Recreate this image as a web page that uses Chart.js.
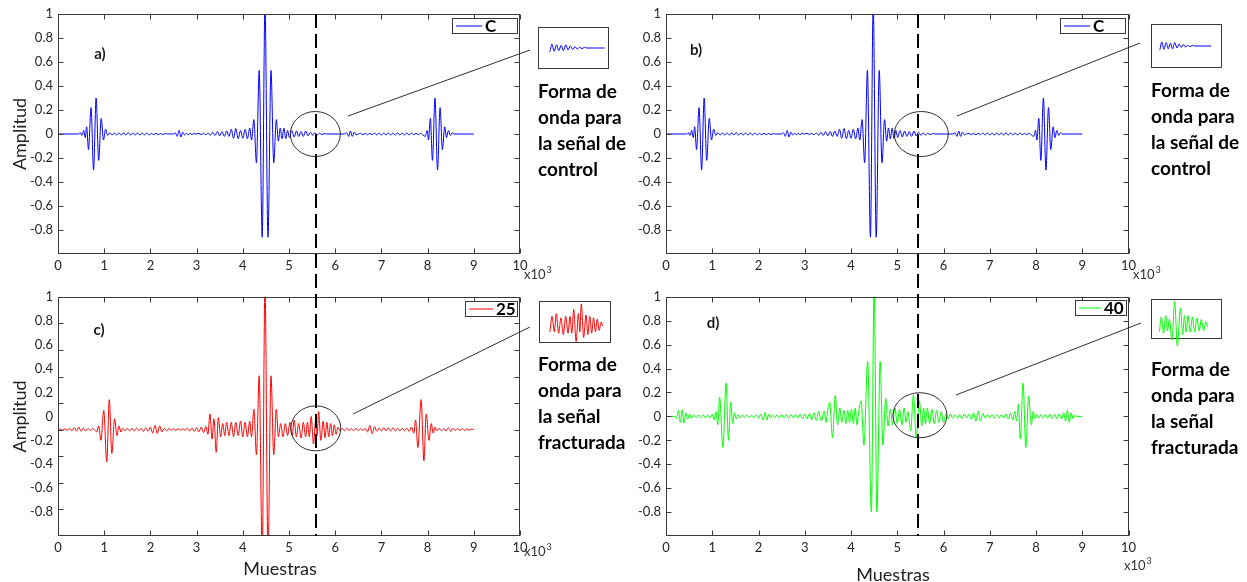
<!DOCTYPE html>
<html lang="es">
<head>
<meta charset="utf-8">
<title>Formas de onda</title>
<script src="https://cdn.jsdelivr.net/npm/chart.js@4.4.1/dist/chart.umd.min.js"></script>
<style>
  html, body { margin: 0; padding: 0; background: #fff; }
  #lienzo { position: relative; width: 1247px; height: 582px; overflow: hidden; }
  #lienzo canvas { position: absolute; }
</style>
</head>
<body>
<div id="lienzo">
  <canvas id="panelA" width="632" height="284" style="left:0;top:0"></canvas>
  <canvas id="panelB" width="615" height="284" style="left:632px;top:0"></canvas>
  <canvas id="panelC" width="632" height="298" style="left:0;top:284px"></canvas>
  <canvas id="panelD" width="615" height="298" style="left:632px;top:284px"></canvas>
  <canvas id="zoomA" width="91" height="62" style="left:528px;top:17px"></canvas>
  <canvas id="zoomB" width="91" height="64" style="left:1141px;top:14px"></canvas>
  <canvas id="zoomC" width="92" height="62" style="left:529px;top:291px"></canvas>
  <canvas id="zoomD" width="91" height="60" style="left:1141px;top:289px"></canvas>
</div>
<script>
// ejes (muestras en miles)
const marcasMuestras = [0, 1, 2, 3, 4, 5, 6, 7, 8, 9, 10];
const marcasAmplitud = [1, 0.8, 0.6, 0.4, 0.2, 0, -0.2, -0.4, -0.6, -0.8];
const marcasPanelC = [0.778, 0.556, 0.333, 0.111, -0.111, -0.333, -0.556, -0.778];

// señal de control "C" [muestra x10^3, amplitud]
const senalControl = [
  [0, 0], [0.45, 0], [0.48, 0.012], [0.52, -0.012], [0.555, 0.03], [0.59, -0.03], [0.62, 0.06],
  [0.66, -0.13], [0.715, 0.22], [0.77, -0.3], [0.825, 0.3], [0.88, -0.22], [0.935, 0.13], [0.985, -0.05],
  [1.03, 0.04], [1.075, -0.012], [1.12, 0.01], [1.17, -0.008], [1.22, 0.008], [1.27, -0.008], [1.32, 0.008],
  [1.37, -0.008], [1.42, 0.01], [1.47, -0.008], [1.52, 0.012], [1.57, -0.008], [1.62, 0.008], [1.67, -0.008],
  [1.72, 0.008], [1.77, -0.008], [1.82, 0.008], [1.87, -0.008], [1.92, 0.008], [1.97, -0.008], [2.02, 0.006],
  [2.07, -0.006], [2.12, 0.006], [2.17, -0.006], [2.22, 0.005], [2.27, -0.005], [2.32, 0.004], [2.37, 0],
  [2.5, 0], [2.54, 0.01], [2.58, -0.02], [2.62, 0.03], [2.66, -0.025], [2.7, 0.015], [2.74, -0.008],
  [2.78, 0.006], [2.82, -0.006], [2.86, 0.006], [2.9, -0.006], [2.94, 0.005], [2.98, 0], [3.05, 0.005],
  [3.1, -0.005], [3.15, 0.006], [3.2, -0.006], [3.25, 0.008], [3.3, -0.01], [3.35, 0.015], [3.4, -0.012],
  [3.45, 0.02], [3.5, -0.015], [3.55, 0.02], [3.6, -0.02], [3.65, 0.025], [3.7, -0.02], [3.75, 0.04],
  [3.8, -0.035], [3.85, 0.045], [3.9, -0.04], [3.95, 0.03], [4.0, -0.035], [4.05, 0.04], [4.1, -0.04],
  [4.15, 0.05], [4.19, -0.05], [4.24, 0.12], [4.295, -0.24], [4.355, 0.53], [4.42, -0.86], [4.48, 1.08],
  [4.545, -0.86], [4.61, 0.53], [4.67, -0.24], [4.725, 0.12], [4.77, -0.06], [4.81, 0.05], [4.85, -0.04],
  [4.89, 0.05], [4.93, -0.04], [4.97, 0.03], [5.01, -0.03], [5.06, 0.03], [5.11, -0.025], [5.16, 0.025],
  [5.21, -0.02], [5.26, 0.02], [5.31, -0.02], [5.36, 0.025], [5.41, -0.015], [5.46, 0.015], [5.51, -0.01],
  [5.56, 0.01], [5.61, -0.008], [5.66, 0.006], [5.71, -0.005], [5.76, 0.004], [5.82, 0], [6.2, 0],
  [6.25, 0.01], [6.29, -0.02], [6.33, 0.025], [6.37, -0.02], [6.41, 0.015], [6.45, -0.005], [6.5, 0],
  [6.55, 0.006], [6.6, -0.006], [6.65, 0.006], [6.7, -0.006], [6.75, 0.006], [6.8, -0.006], [6.85, 0.008],
  [6.9, -0.008], [6.95, 0.008], [7.0, -0.008], [7.05, 0.008], [7.1, -0.008], [7.15, 0.008], [7.2, -0.008],
  [7.25, 0.008], [7.3, -0.008], [7.35, 0.01], [7.4, -0.008], [7.45, 0.008], [7.5, -0.008], [7.55, 0.008],
  [7.6, -0.008], [7.65, 0.008], [7.7, -0.006], [7.75, 0.006], [7.8, -0.006], [7.85, 0.006], [7.9, -0.008],
  [7.95, -0.02], [7.99, 0.03], [8.02, -0.05], [8.06, 0.13], [8.105, -0.22], [8.16, 0.3], [8.215, -0.3],
  [8.27, 0.22], [8.32, -0.13], [8.37, 0.06], [8.41, -0.03], [8.45, 0.03], [8.49, -0.012], [8.53, 0.01],
  [8.57, 0], [9, 0]
];

// señal fracturada "25"
const senal25 = [
  [0, -0.11], [0.05, -0.105], [0.1, -0.115], [0.15, -0.104], [0.2, -0.116], [0.25, -0.1], [0.3, -0.12],
  [0.35, -0.095], [0.4, -0.122], [0.45, -0.09], [0.5, -0.125], [0.55, -0.098], [0.6, -0.12], [0.65, -0.102],
  [0.7, -0.118], [0.75, -0.1], [0.8, -0.118], [0.84, -0.13], [0.88, -0.08], [0.93, -0.2], [0.99, 0.05],
  [1.055, -0.38], [1.11, 0.14], [1.165, -0.31], [1.225, -0.02], [1.275, -0.16], [1.32, -0.08], [1.36, -0.13],
  [1.4, -0.1], [1.45, -0.12], [1.5, -0.1], [1.55, -0.12], [1.6, -0.1], [1.65, -0.122], [1.7, -0.098],
  [1.75, -0.12], [1.8, -0.1], [1.85, -0.124], [1.9, -0.096], [1.95, -0.125], [2.0, -0.09], [2.05, -0.14],
  [2.1, -0.075], [2.15, -0.145], [2.2, -0.08], [2.25, -0.13], [2.3, -0.1], [2.35, -0.12], [2.4, -0.1],
  [2.45, -0.118], [2.5, -0.103], [2.55, -0.116], [2.6, -0.104], [2.65, -0.116], [2.7, -0.104], [2.75, -0.115],
  [2.8, -0.1], [2.85, -0.122], [2.9, -0.098], [2.95, -0.125], [3.0, -0.095], [3.05, -0.128], [3.1, -0.09],
  [3.15, -0.135], [3.2, -0.085], [3.245, -0.15], [3.29, 0.02], [3.335, -0.19], [3.375, -0.02], [3.425, -0.3],
  [3.47, -0.01], [3.52, -0.17], [3.565, -0.06], [3.61, -0.16], [3.65, -0.05], [3.7, -0.16], [3.75, -0.05],
  [3.8, -0.17], [3.85, -0.05], [3.9, -0.16], [3.95, -0.04], [4.0, -0.17], [4.05, -0.05], [4.1, -0.17],
  [4.15, -0.04], [4.19, -0.17], [4.24, 0.06], [4.295, -0.32], [4.355, 0.34], [4.42, -1.16], [4.48, 1.1],
  [4.545, -1.16], [4.61, 0.34], [4.67, -0.32], [4.725, 0.06], [4.77, -0.17], [4.82, -0.06], [4.87, -0.17],
  [4.92, -0.06], [4.97, -0.16], [5.02, -0.05], [5.07, -0.16], [5.11, -0.03], [5.16, -0.17], [5.21, -0.06],
  [5.26, -0.18], [5.31, -0.05], [5.36, -0.17], [5.4, -0.05], [5.44, -0.17], [5.48, 0.0], [5.53, -0.23],
  [5.58, -0.03], [5.61, -0.16], [5.64, 0.04], [5.69, -0.2], [5.74, -0.04], [5.78, -0.18], [5.82, -0.05],
  [5.86, -0.17], [5.9, -0.06], [5.94, -0.16], [5.98, -0.07], [6.02, -0.15], [6.06, -0.09], [6.1, -0.12],
  [6.15, -0.1], [6.2, -0.12], [6.25, -0.098], [6.3, -0.12], [6.35, -0.1], [6.4, -0.12], [6.45, -0.1],
  [6.5, -0.118], [6.55, -0.102], [6.6, -0.118], [6.65, -0.1], [6.7, -0.13], [6.75, -0.075], [6.8, -0.145],
  [6.85, -0.085], [6.9, -0.125], [6.95, -0.098], [7.0, -0.122], [7.05, -0.095], [7.1, -0.122], [7.15, -0.095],
  [7.2, -0.122], [7.25, -0.095], [7.3, -0.122], [7.35, -0.098], [7.4, -0.12], [7.45, -0.1], [7.5, -0.12],
  [7.55, -0.098], [7.6, -0.125], [7.65, -0.09], [7.7, -0.14], [7.74, -0.03], [7.79, -0.26], [7.86, 0.14],
  [7.92, -0.37], [7.97, 0.02], [8.03, -0.2], [8.08, -0.06], [8.12, -0.14], [8.16, -0.09], [8.2, -0.12],
  [8.25, -0.1], [8.3, -0.12], [8.35, -0.1], [8.4, -0.122], [8.45, -0.095], [8.5, -0.125], [8.55, -0.1],
  [8.6, -0.118], [8.65, -0.102], [8.7, -0.118], [8.75, -0.102], [8.8, -0.118], [8.85, -0.104], [8.9, -0.115],
  [8.95, -0.106], [9, -0.11]
];

// señal fracturada "40"
const senal40 = [
  [0, 0], [0.2, 0], [0.23, -0.02], [0.27, 0.05], [0.31, -0.05], [0.35, 0.055], [0.39, -0.055], [0.43, 0.03],
  [0.47, -0.025], [0.51, 0.02], [0.55, -0.015], [0.6, 0.012], [0.65, -0.012], [0.7, 0.012], [0.75, -0.012],
  [0.8, 0.012], [0.85, -0.012], [0.9, 0.012], [0.95, -0.015], [1.0, 0.02], [1.04, -0.03], [1.08, 0.04],
  [1.12, -0.07], [1.16, 0.16], [1.23, -0.26], [1.3, 0.28], [1.35, -0.2], [1.4, 0.12], [1.44, -0.06],
  [1.48, 0.03], [1.52, -0.02], [1.56, 0.015], [1.6, -0.012], [1.65, 0.012], [1.7, -0.01], [1.75, 0.01],
  [1.8, -0.01], [1.85, 0.01], [1.9, -0.012], [1.95, 0.012], [2.0, -0.015], [2.05, 0.02], [2.1, -0.03],
  [2.14, 0.035], [2.18, -0.03], [2.22, 0.02], [2.26, -0.015], [2.3, 0.012], [2.35, -0.01], [2.4, 0.012],
  [2.45, -0.012], [2.5, 0.015], [2.55, -0.015], [2.6, 0.015], [2.65, -0.015], [2.7, 0.015], [2.75, -0.012],
  [2.8, 0.015], [2.85, -0.015], [2.9, 0.018], [2.95, -0.018], [3.0, 0.02], [3.05, -0.02], [3.1, 0.025],
  [3.15, -0.03], [3.2, 0.03], [3.25, -0.035], [3.3, 0.04], [3.36, -0.04], [3.42, 0.045], [3.46, -0.05],
  [3.5, 0.06], [3.54, 0.12], [3.6, -0.18], [3.66, 0.175], [3.71, -0.07], [3.76, 0.07], [3.8, -0.05],
  [3.85, 0.05], [3.89, -0.06], [3.93, 0.05], [3.97, -0.05], [4.01, 0.06], [4.05, -0.06], [4.09, 0.07],
  [4.13, -0.07], [4.17, 0.05], [4.22, 0.13], [4.28, -0.24], [4.36, 0.46], [4.44, -0.8], [4.5, 1.08],
  [4.56, -0.8], [4.63, 0.46], [4.69, -0.24], [4.75, 0.15], [4.8, -0.08], [4.85, 0.06], [4.9, -0.07],
  [4.95, 0.07], [5.0, -0.06], [5.05, 0.06], [5.1, -0.07], [5.15, 0.07], [5.19, -0.05], [5.23, 0.04],
  [5.29, -0.12], [5.35, 0.18], [5.41, -0.17], [5.48, 0.13], [5.53, -0.08], [5.57, 0.07], [5.61, -0.06],
  [5.65, 0.07], [5.7, -0.06], [5.75, 0.06], [5.8, -0.06], [5.85, 0.05], [5.9, -0.05], [5.95, 0.04],
  [6.0, -0.05], [6.05, 0.02], [6.1, -0.02], [6.15, 0.02], [6.2, -0.015], [6.25, 0.015], [6.3, -0.015],
  [6.35, 0.015], [6.4, -0.02], [6.45, 0.02], [6.5, -0.015], [6.55, 0.02], [6.6, -0.025], [6.65, 0.03],
  [6.7, -0.04], [6.75, 0.045], [6.8, -0.04], [6.85, 0.025], [6.9, -0.015], [6.95, 0.015], [7.0, -0.012],
  [7.05, 0.015], [7.1, -0.015], [7.15, 0.015], [7.2, -0.015], [7.25, 0.015], [7.3, -0.015], [7.35, 0.02],
  [7.4, -0.02], [7.45, 0.025], [7.5, -0.03], [7.54, 0.04], [7.58, -0.04], [7.62, 0.1], [7.66, -0.19],
  [7.72, 0.28], [7.78, -0.26], [7.84, 0.17], [7.9, -0.07], [7.94, 0.04], [7.98, -0.02], [8.02, 0.015],
  [8.06, -0.015], [8.1, 0.015], [8.15, -0.015], [8.2, 0.015], [8.25, -0.015], [8.3, 0.018], [8.35, -0.018],
  [8.4, 0.02], [8.45, -0.02], [8.5, 0.02], [8.55, -0.02], [8.6, 0.03], [8.64, -0.04], [8.68, 0.05],
  [8.72, -0.05], [8.76, 0.03], [8.8, -0.02], [8.84, 0.01], [8.88, 0], [9, 0]
];

const puntos = s => s.map(p => ({ x: p[0], y: p[1] }));
const fuente = 'Lato, "Open Sans", sans-serif';

// recuadro con marcas hacia dentro en los cuatro lados
const marco = {
  id: 'marco',
  afterDatasetsDraw(chart, args, o) {
    const { ctx, chartArea: ca, scales: { x, y } } = chart;
    const l = Math.round(ca.left) + 0.5, r = Math.round(ca.right) - 0.5;
    const t = Math.round(ca.top) + 0.5, b = Math.round(ca.bottom) - 0.5;
    ctx.save();
    ctx.strokeStyle = '#3a3a3a';
    ctx.lineWidth = 1;
    ctx.strokeRect(l, t, r - l, b - t);
    ctx.beginPath();
    marcasMuestras.forEach(v => {
      const px = Math.round(x.getPixelForValue(v)) + 0.5;
      ctx.moveTo(px, t); ctx.lineTo(px, t + 5);
      ctx.moveTo(px, b); ctx.lineTo(px, b - 5);
    });
    (o.marcasY || marcasAmplitud).forEach(v => {
      const py = Math.round(y.getPixelForValue(v)) + 0.5;
      ctx.moveTo(l, py); ctx.lineTo(l + 5, py);
      ctx.moveTo(r, py); ctx.lineTo(r - 5, py);
    });
    ctx.stroke();
    ctx.restore();
  }
};

// cursor, elipse, puntero, leyenda y rótulos de cada panel
const notas = {
  id: 'notas',
  afterDatasetsDraw(chart, args, o) {
    const { ctx, chartArea: ca, scales: { x, y } } = chart;
    ctx.save();

    const cx = Math.round(x.getPixelForValue(o.cursor));
    ctx.strokeStyle = '#000';
    ctx.lineWidth = 2;
    ctx.setLineDash([14, 6]);
    ctx.lineDashOffset = o.fase;
    ctx.beginPath();
    if (o.fila === 'arriba') { ctx.moveTo(cx, ca.top); ctx.lineTo(cx, chart.height); }
    else { ctx.moveTo(cx, 0); ctx.lineTo(cx, ca.bottom); }
    ctx.stroke();
    ctx.setLineDash([]);

    ctx.strokeStyle = '#2e2e2e';
    ctx.lineWidth = 1;
    ctx.beginPath();
    ctx.ellipse(x.getPixelForValue(o.elipse.x), y.getPixelForValue(o.elipse.y), o.elipse.rx, o.elipse.ry, 0, 0, 2 * Math.PI);
    ctx.stroke();
    ctx.beginPath();
    ctx.moveTo(o.puntero[0], o.puntero[1]);
    ctx.lineTo(o.puntero[2], o.puntero[3]);
    ctx.stroke();

    // leyenda
    const g = o.leyenda;
    ctx.fillStyle = '#fff';
    ctx.fillRect(g.x, g.y, g.ancho, 15);
    ctx.strokeStyle = '#3a3a3a';
    ctx.strokeRect(g.x + 0.5, g.y + 0.5, g.ancho, 15);
    ctx.strokeStyle = o.color;
    ctx.beginPath();
    ctx.moveTo(g.x + 4, g.y + 8); ctx.lineTo(g.x + 4 + g.linea, g.y + 8);
    ctx.stroke();
    ctx.fillStyle = '#000';
    ctx.font = 'bold 17px ' + fuente;
    ctx.textAlign = 'left';
    ctx.textBaseline = 'middle';
    ctx.fillText(g.texto, g.x + g.linea + 7, g.y + 9);

    // letra del panel
    ctx.font = 'bold 15px ' + fuente;
    ctx.fillStyle = '#1a1a1a';
    ctx.textAlign = 'center';
    ctx.fillText(o.letra[0], o.letra[1], o.letra[2]);

    // factor de escala del eje x
    ctx.font = '13px ' + fuente;
    ctx.fillStyle = '#333';
    ctx.textAlign = 'left';
    ctx.fillText('x10', o.exponente[0], o.exponente[1]);
    const w = ctx.measureText('x10').width;
    ctx.font = '9px ' + fuente;
    ctx.fillText('3', o.exponente[0] + w + 1, o.exponente[1] - 5);

    // descripción del recuadro ampliado
    ctx.font = 'bold 19px ' + fuente;
    ctx.fillStyle = '#000';
    o.rotulo.lineas.forEach((t, i) => ctx.fillText(t, o.rotulo.x, o.rotulo.y + i * 26));

    if (o.muestras) {
      ctx.font = '18px ' + fuente;
      ctx.fillStyle = '#222';
      ctx.textAlign = 'center';
      ctx.fillText('Muestras', o.muestras[0], o.muestras[1]);
    }
    ctx.restore();
  }
};

function panel(id, cfg) {
  return new Chart(document.getElementById(id), {
    type: 'line',
    data: {
      datasets: [{
        data: puntos(cfg.serie),
        borderColor: cfg.color,
        borderWidth: 1,
        pointRadius: 0,
        cubicInterpolationMode: 'monotone'
      }]
    },
    options: {
      responsive: false,
      animation: false,
      devicePixelRatio: 1,
      events: [],
      layout: { padding: { top: cfg.arriba, right: cfg.derecha, left: 0, bottom: 0 } },
      scales: {
        x: {
          type: 'linear', min: 0, max: 10,
          grid: { display: false, drawTicks: false },
          border: { display: false },
          afterBuildTicks: s => { s.ticks = marcasMuestras.map(v => ({ value: v })); },
          ticks: {
            color: '#262626', font: { family: fuente, size: 13 }, padding: 4,
            maxRotation: 0, autoSkip: false, callback: v => String(v)
          },
          afterFit: s => { s.height = cfg.altoX; }
        },
        y: {
          min: -1, max: 1,
          grid: { display: false, drawTicks: false },
          border: { display: false },
          afterBuildTicks: s => { s.ticks = marcasAmplitud.map(v => ({ value: v })); },
          ticks: {
            color: '#262626', font: { family: fuente, size: 13 }, padding: 5,
            autoSkip: false, callback: v => String(v)
          },
          title: {
            display: cfg.amplitud, text: 'Amplitud', color: '#222',
            font: { family: fuente, size: 18 }, padding: { top: 9, bottom: 0 }
          },
          afterFit: s => { s.width = cfg.anchoY; }
        }
      },
      plugins: {
        legend: { display: false },
        tooltip: { enabled: false },
        marco: { marcasY: cfg.marcasY },
        notas: Object.assign({ color: cfg.color }, cfg.notas)
      }
    },
    plugins: [marco, notas]
  });
}

// recuadro pequeño con el tramo ampliado de la señal
const caja = {
  id: 'caja',
  beforeDatasetsDraw(chart) {
    const { ctx, width, height } = chart;
    ctx.save();
    ctx.strokeStyle = '#3a3a3a';
    ctx.lineWidth = 1;
    ctx.strokeRect(10.5, 10.5, width - 21, height - 21);
    ctx.restore();
  }
};

function ampliacion(id, cfg) {
  return new Chart(document.getElementById(id), {
    type: 'line',
    data: {
      datasets: [{
        data: puntos(cfg.serie),
        borderColor: cfg.color,
        borderWidth: 1,
        pointRadius: 0,
        cubicInterpolationMode: 'monotone',
        clip: cfg.recorte
      }]
    },
    options: {
      responsive: false,
      animation: false,
      devicePixelRatio: 1,
      events: [],
      layout: { padding: cfg.relleno },
      scales: {
        x: { type: 'linear', display: false, min: 5.02, max: 6.1 },
        y: { display: false, min: cfg.min, max: cfg.max }
      },
      plugins: { legend: { display: false }, tooltip: { enabled: false } }
    },
    plugins: [caja]
  });
}

const azul = '#0000ff', rojo = '#ff0000', verde = '#00ff00';

panel('panelA', {
  serie: senalControl, color: azul, arriba: 14, derecha: 112, altoX: 30, anchoY: 58, amplitud: true,
  notas: {
    fila: 'arriba', fase: 0, cursor: 5.58,
    elipse: { x: 5.57, y: 0, rx: 25, ry: 22.5 },
    puntero: [348, 116, 530, 50],
    leyenda: { texto: 'C', x: 452, y: 18, ancho: 65, linea: 26 },
    letra: ['a)', 100, 54],
    exponente: [524, 275],
    rotulo: { lineas: ['Forma de', 'onda para', 'la señal de', 'control'], x: 538, y: 92 }
  }
});

panel('panelB', {
  serie: senalControl, color: azul, arriba: 14, derecha: 118.5, altoX: 30, anchoY: 34, amplitud: false,
  notas: {
    fila: 'arriba', fase: 0, cursor: 5.44,
    elipse: { x: 5.52, y: 0, rx: 27, ry: 22.5 },
    puntero: [325, 116, 508, 43],
    leyenda: { texto: 'C', x: 428, y: 18, ancho: 65, linea: 26 },
    letra: ['b)', 64, 50],
    exponente: [501, 275],
    rotulo: { lineas: ['Forma de', 'onda para', 'la señal de', 'control'], x: 519, y: 91 }
  }
});

panel('panelC', {
  serie: senal25, color: rojo, arriba: 11, derecha: 112, altoX: 46, anchoY: 58, amplitud: true,
  marcasY: marcasPanelC,
  notas: {
    fila: 'abajo', fase: 10, cursor: 5.58,
    elipse: { x: 5.58, y: -0.1, rx: 25, ry: 22.5 },
    puntero: [353, 130, 530, 43],
    leyenda: { texto: '25', x: 465, y: 17, ancho: 52, linea: 24 },
    letra: ['c)', 99, 46],
    exponente: [524, 268],
    rotulo: { lineas: ['Forma de', 'onda para', 'la señal', 'fracturada'], x: 538, y: 81 },
    muestras: [280, 285]
  }
});

panel('panelD', {
  serie: senal40, color: verde, arriba: 11, derecha: 118.5, altoX: 46, anchoY: 34, amplitud: false,
  notas: {
    fila: 'abajo', fase: 10, cursor: 5.44,
    elipse: { x: 5.49, y: 0.01, rx: 27, ry: 22.5 },
    puntero: [324, 111, 509, 39],
    leyenda: { texto: '40', x: 443, y: 16, ancho: 51, linea: 22 },
    letra: ['d)', 81, 39],
    exponente: [492, 282],
    rotulo: { lineas: ['Forma de', 'onda para', 'la señal', 'fracturada'], x: 519, y: 86 },
    muestras: [261, 291]
  }
});

ampliacion('zoomA', {
  serie: senalControl, color: azul, min: -0.16, max: 0.16,
  relleno: { left: 22, right: 19, top: 10, bottom: 10 },
  recorte: { left: 12, right: 9, top: 0, bottom: 0 }
});
ampliacion('zoomB', {
  serie: senalControl, color: azul, min: -0.16, max: 0.16,
  relleno: { left: 19, right: 25, top: 10, bottom: 10 },
  recorte: { left: 9, right: 15, top: 0, bottom: 0 }
});
ampliacion('zoomC', {
  serie: senal25, color: rojo, min: -0.24, max: 0.06,
  relleno: { left: 23, right: 18, top: 10, bottom: 10 },
  recorte: { left: 13, right: 8, top: 0, bottom: 0 }
});
ampliacion('zoomD', {
  serie: senal40, color: verde, min: -0.114, max: 0.2,
  relleno: { left: 19, right: 24, top: 10, bottom: 10 },
  recorte: { left: 9, right: 14, top: 0, bottom: 10 }
});
</script>
</body>
</html>
